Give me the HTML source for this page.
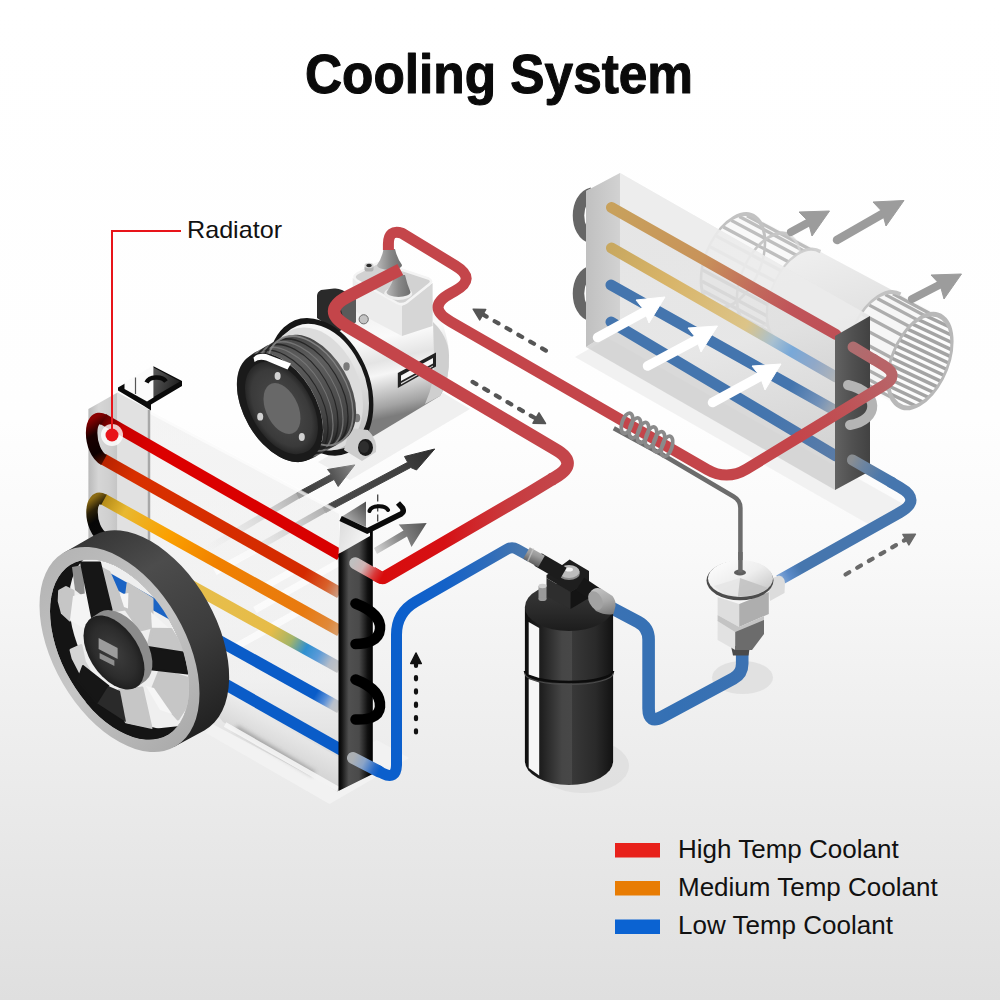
<!DOCTYPE html>
<html lang="en">
<head>
<meta charset="utf-8">
<title>Cooling System</title>
<style>
html,body{margin:0;padding:0;background:#fff;}
body{width:1000px;height:1000px;overflow:hidden;font-family:"Liberation Sans",sans-serif;}
svg{display:block;}
text{font-family:"Liberation Sans",sans-serif;}
</style>
</head>
<body>
<svg width="1000" height="1000" viewBox="0 0 1000 1000">
<defs>
<linearGradient id="bg" x1="0" y1="0" x2="0" y2="1">
<stop offset="0" stop-color="#ffffff"/>
<stop offset="0.42" stop-color="#fefefe"/>
<stop offset="0.55" stop-color="#f9f9f9"/>
<stop offset="0.68" stop-color="#f1f1f1"/>
<stop offset="0.82" stop-color="#e9e9e9"/>
<stop offset="1" stop-color="#dfdfdf"/>
</linearGradient>

<radialGradient id="shad" cx="0.5" cy="0.5" r="0.5">
<stop offset="0" stop-color="#bdbdbd" stop-opacity="0.9"/><stop offset="0.7" stop-color="#d0d0d0" stop-opacity="0.6"/><stop offset="1" stop-color="#e0e0e0" stop-opacity="0"/>
</radialGradient>


<linearGradient id="blBody" x1="0.5" y1="0" x2="0.3" y2="1">
<stop offset="0" stop-color="#f0f0f0"/><stop offset="0.3" stop-color="#e8e8e8"/><stop offset="1" stop-color="#d4d4d4"/>
</linearGradient>
<clipPath id="capR"><circle r="1" transform="matrix(32 -18.5 0 43 920 361.05)" /></clipPath>


<linearGradient id="e1" gradientUnits="userSpaceOnUse" x1="611" y1="206" x2="850" y2="346">
<stop offset="0" stop-color="#c8a15c"/><stop offset="0.38" stop-color="#c8935a"/><stop offset="0.6" stop-color="#c26a5c"/><stop offset="0.75" stop-color="#c0545a"/><stop offset="1" stop-color="#be4e54"/>
</linearGradient>
<linearGradient id="e2" gradientUnits="userSpaceOnUse" x1="611" y1="247" x2="836" y2="378">
<stop offset="0" stop-color="#c8a860"/><stop offset="0.25" stop-color="#d8b468"/><stop offset="0.6" stop-color="#dcc488"/><stop offset="0.72" stop-color="#a8c0d0"/><stop offset="0.8" stop-color="#78a8d8"/><stop offset="0.9" stop-color="#90a8c8"/><stop offset="1" stop-color="#b0b4b8"/>
</linearGradient>
<linearGradient id="e3" gradientUnits="userSpaceOnUse" x1="611" y1="285" x2="836" y2="412">
<stop offset="0" stop-color="#4475ae"/><stop offset="0.8" stop-color="#4475ae"/><stop offset="0.92" stop-color="#7090b8"/><stop offset="1" stop-color="#a8acb0"/>
</linearGradient>
<linearGradient id="e4" gradientUnits="userSpaceOnUse" x1="611" y1="322" x2="836" y2="456">
<stop offset="0" stop-color="#4475ae"/><stop offset="0.7" stop-color="#4475ae"/><stop offset="1" stop-color="#5a7ca8"/>
</linearGradient>
<linearGradient id="evL" x1="0" y1="0" x2="1" y2="0">
<stop offset="0" stop-color="#c0c0c0"/><stop offset="1" stop-color="#d2d2d2"/>
</linearGradient>
<linearGradient id="evBack" gradientUnits="userSpaceOnUse" x1="620" y1="180" x2="700" y2="480">
<stop offset="0" stop-color="#dedede"/><stop offset="0.6" stop-color="#e0e0e0"/><stop offset="1" stop-color="#c8c8c8"/>
</linearGradient>
<linearGradient id="evPost" x1="0" y1="0" x2="1" y2="0">
<stop offset="0" stop-color="#626262"/><stop offset="0.5" stop-color="#505050"/><stop offset="1" stop-color="#424242"/>
</linearGradient>


<linearGradient id="cBody" gradientUnits="userSpaceOnUse" x1="395" y1="300" x2="420" y2="410">
<stop offset="0" stop-color="#f0f0f0"/><stop offset="0.3" stop-color="#fafafa"/><stop offset="0.5" stop-color="#e4e4e4"/><stop offset="0.62" stop-color="#f6f6f6"/><stop offset="0.75" stop-color="#cfcfcf"/><stop offset="0.9" stop-color="#a4a4a4"/><stop offset="1" stop-color="#7c7c7c"/>
</linearGradient>
<linearGradient id="cGroove" x1="0" y1="0" x2="0.4" y2="1">
<stop offset="0" stop-color="#262626"/><stop offset="0.35" stop-color="#5e5e5e"/><stop offset="0.7" stop-color="#444"/><stop offset="1" stop-color="#181818"/>
</linearGradient>
<radialGradient id="cFace" cx="0.5" cy="0.5" r="0.55">
<stop offset="0" stop-color="#4e4e4e"/><stop offset="0.75" stop-color="#3a3a3a"/><stop offset="1" stop-color="#1c1c1c"/>
</radialGradient>
<linearGradient id="cFl" x1="0" y1="0" x2="0.3" y2="1">
<stop offset="0" stop-color="#ffffff"/><stop offset="0.5" stop-color="#e2e2e2"/><stop offset="1" stop-color="#bdbdbd"/>
</linearGradient>
<linearGradient id="cPort" x1="0" y1="0" x2="1" y2="0">
<stop offset="0" stop-color="#b8b8b8"/><stop offset="0.5" stop-color="#8a8a8a"/><stop offset="1" stop-color="#6e6e6e"/>
</linearGradient>


<linearGradient id="pA" gradientUnits="userSpaceOnUse" x1="372" y1="575" x2="553" y2="575">
<stop offset="0" stop-color="#d80c0c"/><stop offset="0.4" stop-color="#d61014"/><stop offset="0.55" stop-color="#d02428"/><stop offset="0.75" stop-color="#c83a3e"/><stop offset="1" stop-color="#c4454a"/>
</linearGradient>
<linearGradient id="pC" gradientUnits="userSpaceOnUse" x1="352" y1="756" x2="380" y2="770">
<stop offset="0" stop-color="#b8bcc0"/><stop offset="0.5" stop-color="#6a98d0"/><stop offset="1" stop-color="#0b5fcc"/>
</linearGradient>
<linearGradient id="pC2" gradientUnits="userSpaceOnUse" x1="396" y1="575" x2="520" y2="575">
<stop offset="0" stop-color="#0b5fcc"/><stop offset="0.4" stop-color="#1462c8"/><stop offset="0.8" stop-color="#336eb8"/><stop offset="1" stop-color="#4676ae"/>
</linearGradient>
<linearGradient id="pB2" gradientUnits="userSpaceOnUse" x1="798" y1="437" x2="890" y2="375">
<stop offset="0" stop-color="#c4454a"/><stop offset="0.5" stop-color="#bf5256"/><stop offset="1" stop-color="#b86468"/>
</linearGradient>
<linearGradient id="pB3" gradientUnits="userSpaceOnUse" x1="874" y1="360" x2="853" y2="347">
<stop offset="0" stop-color="#b5666a"/><stop offset="1" stop-color="#ae6e70"/>
</linearGradient>
<linearGradient id="pE" gradientUnits="userSpaceOnUse" x1="852" y1="459" x2="892" y2="480">
<stop offset="0" stop-color="#8a8e92"/><stop offset="0.3" stop-color="#6c84a0"/><stop offset="0.7" stop-color="#4e79aa"/><stop offset="1" stop-color="#4676ae"/>
</linearGradient>
<linearGradient id="pE0" gradientUnits="userSpaceOnUse" x1="777" y1="580" x2="800" y2="567">
<stop offset="0" stop-color="#8fb0dc"/><stop offset="0.5" stop-color="#5a8ac8"/><stop offset="1" stop-color="#4676ae"/>
</linearGradient>
<linearGradient id="pD" gradientUnits="userSpaceOnUse" x1="612" y1="650" x2="742" y2="650">
<stop offset="0" stop-color="#3a72b4"/><stop offset="0.5" stop-color="#3470b4"/><stop offset="1" stop-color="#3c72b2"/>
</linearGradient>


<linearGradient id="rp1" gradientUnits="userSpaceOnUse" x1="95" y1="420" x2="340" y2="556">
<stop offset="0" stop-color="#3a0000"/><stop offset="0.1" stop-color="#c80000"/><stop offset="0.25" stop-color="#dc0000"/><stop offset="1" stop-color="#d80000"/>
</linearGradient>
<linearGradient id="rp2" gradientUnits="userSpaceOnUse" x1="95" y1="460" x2="340" y2="596">
<stop offset="0" stop-color="#b02000"/><stop offset="0.15" stop-color="#d83000"/><stop offset="0.85" stop-color="#d42a00"/><stop offset="0.94" stop-color="#d8602a"/><stop offset="1" stop-color="#c9a58f"/>
</linearGradient>
<linearGradient id="rp3" gradientUnits="userSpaceOnUse" x1="95" y1="496" x2="340" y2="632">
<stop offset="0" stop-color="#a07a10"/><stop offset="0.12" stop-color="#e8b830"/><stop offset="0.3" stop-color="#fba000"/><stop offset="0.5" stop-color="#f08000"/><stop offset="0.85" stop-color="#e87a10"/><stop offset="0.95" stop-color="#e08838"/><stop offset="1" stop-color="#d8a070"/>
</linearGradient>
<linearGradient id="rp4" gradientUnits="userSpaceOnUse" x1="95" y1="532" x2="340" y2="668">
<stop offset="0" stop-color="#e8c050"/><stop offset="0.72" stop-color="#e6bc48"/><stop offset="0.8" stop-color="#a4b468"/><stop offset="0.86" stop-color="#2f90d0"/><stop offset="0.91" stop-color="#5a9ad8"/><stop offset="0.96" stop-color="#b4bcc8"/><stop offset="1" stop-color="#c4c4c4"/>
</linearGradient>
<linearGradient id="rp5" gradientUnits="userSpaceOnUse" x1="95" y1="572" x2="340" y2="708">
<stop offset="0" stop-color="#0a5cc8"/><stop offset="0.9" stop-color="#0a5cc8"/><stop offset="0.94" stop-color="#5a90d8"/><stop offset="0.97" stop-color="#b8c0cc"/><stop offset="1" stop-color="#c4c4c4"/>
</linearGradient>
<linearGradient id="ub1" gradientUnits="userSpaceOnUse" x1="90" y1="420" x2="120" y2="470">
<stop offset="0" stop-color="#8a0000"/><stop offset="0.25" stop-color="#1a0000"/><stop offset="0.55" stop-color="#0c0000"/><stop offset="0.8" stop-color="#6a1200"/><stop offset="1" stop-color="#c82800"/>
</linearGradient>
<linearGradient id="ub2" gradientUnits="userSpaceOnUse" x1="90" y1="500" x2="120" y2="540">
<stop offset="0" stop-color="#8a6a14"/><stop offset="0.2" stop-color="#2a2008"/><stop offset="0.4" stop-color="#060606"/><stop offset="1" stop-color="#0c0c0c"/>
</linearGradient>
<linearGradient id="postL" x1="0" y1="0" x2="1" y2="0">
<stop offset="0" stop-color="#b4b4b4"/><stop offset="0.35" stop-color="#d2d2d2"/><stop offset="0.7" stop-color="#cccccc"/><stop offset="1" stop-color="#c0c0c0"/>
</linearGradient>
<linearGradient id="postR" x1="0" y1="0" x2="1" y2="0">
<stop offset="0" stop-color="#020202"/><stop offset="0.1" stop-color="#161616"/><stop offset="0.3" stop-color="#505050"/><stop offset="0.6" stop-color="#4a4a4a"/><stop offset="0.85" stop-color="#101010"/><stop offset="1" stop-color="#000"/>
</linearGradient>
<linearGradient id="bodyG" gradientUnits="userSpaceOnUse" x1="0" y1="420" x2="0" y2="790">
<stop offset="0" stop-color="#ececec" stop-opacity="0.55"/><stop offset="0.7" stop-color="#efefef" stop-opacity="0.55"/><stop offset="0.85" stop-color="#e0e0e0" stop-opacity="0.8"/><stop offset="1" stop-color="#cfcfcf" stop-opacity="0.95"/>
</linearGradient>
<linearGradient id="arA" gradientUnits="userSpaceOnUse" x1="324" y1="510" x2="435" y2="449">
<stop offset="0" stop-color="#4a4a4a"/><stop offset="0.7" stop-color="#404040"/><stop offset="1" stop-color="#2c2c2c"/>
</linearGradient>
<linearGradient id="arB" gradientUnits="userSpaceOnUse" x1="298" y1="495" x2="355" y2="465">
<stop offset="0" stop-color="#3c3c3c"/><stop offset="0.55" stop-color="#4c4c4c"/><stop offset="1" stop-color="#8a8a8a"/>
</linearGradient>
<linearGradient id="arC" gradientUnits="userSpaceOnUse" x1="375" y1="552" x2="427" y2="523">
<stop offset="0" stop-color="#d8d8d8"/><stop offset="0.45" stop-color="#8a8a8a"/><stop offset="1" stop-color="#555"/>
</linearGradient>
<linearGradient id="tailA" gradientUnits="userSpaceOnUse" x1="324" y1="510" x2="225" y2="566">
<stop offset="0" stop-color="#9a9a9a" stop-opacity="0.75"/><stop offset="0.3" stop-color="#c4c4c4" stop-opacity="0.7"/><stop offset="1" stop-color="#e0e0e0" stop-opacity="0"/>
</linearGradient>
<linearGradient id="tailB" gradientUnits="userSpaceOnUse" x1="298" y1="495.500" x2="205" y2="550">
<stop offset="0" stop-color="#9a9a9a" stop-opacity="0.75"/><stop offset="0.3" stop-color="#c4c4c4" stop-opacity="0.7"/><stop offset="1" stop-color="#e0e0e0" stop-opacity="0"/>
</linearGradient>
<linearGradient id="postTop" x1="0" y1="0" x2="1" y2="0.6">
<stop offset="0" stop-color="#dadada"/><stop offset="1" stop-color="#f6f6f6"/>
</linearGradient>
<linearGradient id="brTri" x1="1" y1="0" x2="0" y2="1">
<stop offset="0" stop-color="#4a4a4a"/><stop offset="1" stop-color="#c8c8c8"/>
</linearGradient>
<linearGradient id="brL" x1="0" y1="0" x2="1" y2="0.3">
<stop offset="0" stop-color="#5a5a5a"/><stop offset="1" stop-color="#222"/>
</linearGradient>
<linearGradient id="botG" gradientUnits="userSpaceOnUse" x1="290" y1="725" x2="272" y2="758">
<stop offset="0" stop-color="#ececec" stop-opacity="0.7"/><stop offset="1" stop-color="#cfcfcf" stop-opacity="0.95"/>
</linearGradient>
<filter id="blur2" x="-20%" y="-20%" width="140%" height="140%"><feGaussianBlur stdDeviation="2"/></filter>


<linearGradient id="pAe" gradientUnits="userSpaceOnUse" x1="353" y1="562" x2="381.500" y2="578">
<stop offset="0" stop-color="#c9c9c9" stop-opacity="0.92"/><stop offset="0.35" stop-color="#cfb4b4"/><stop offset="0.75" stop-color="#d83a3a"/><stop offset="1" stop-color="#d80c0c"/>
</linearGradient>
<linearGradient id="pCe" gradientUnits="userSpaceOnUse" x1="353" y1="758" x2="379" y2="771">
<stop offset="0" stop-color="#b4b8bc" stop-opacity="0.92"/><stop offset="0.4" stop-color="#8aa4c8"/><stop offset="0.8" stop-color="#2a6cc8"/><stop offset="1" stop-color="#0b5fcc"/>
</linearGradient>


<linearGradient id="fanRim" x1="0.25" y1="0" x2="1" y2="0.75">
<stop offset="0" stop-color="#2e2e2e"/><stop offset="0.3" stop-color="#4c4c4c"/><stop offset="0.6" stop-color="#3c3c3c"/><stop offset="1" stop-color="#1a1a1a"/>
</linearGradient>
<linearGradient id="fanRing" x1="0" y1="0.1" x2="1" y2="0.9">
<stop offset="0" stop-color="#b0b0b0"/><stop offset="0.5" stop-color="#c6c6c6"/><stop offset="1" stop-color="#a4a4a4"/>
</linearGradient>
<radialGradient id="hubG" cx="0.5" cy="0.5" r="0.6">
<stop offset="0" stop-color="#3e3e3e"/><stop offset="0.6" stop-color="#2c2c2c"/><stop offset="1" stop-color="#161616"/>
</radialGradient>
<clipPath id="fanIn"><circle r="1" transform="matrix(69.5 38.2 0 81.5 119.5 649.5)" /></clipPath>


<linearGradient id="drBody" x1="0" y1="0" x2="1" y2="0">
<stop offset="0" stop-color="#0e0e0e"/><stop offset="0.18" stop-color="#1e1e1e"/><stop offset="0.42" stop-color="#464646"/><stop offset="0.53" stop-color="#484848"/><stop offset="0.54" stop-color="#383838"/><stop offset="0.8" stop-color="#2a2a2a"/><stop offset="1" stop-color="#121212"/>
</linearGradient>
<linearGradient id="fitG" x1="0" y1="0" x2="1" y2="1">
<stop offset="0" stop-color="#c4c4c4"/><stop offset="0.6" stop-color="#9a9a9a"/><stop offset="1" stop-color="#6a6a6a"/>
</linearGradient>
<linearGradient id="vDisc" x1="0" y1="0" x2="1" y2="1">
<stop offset="0" stop-color="#ffffff"/><stop offset="0.5" stop-color="#eeeeee"/><stop offset="1" stop-color="#bdbdbd"/>
</linearGradient>

<linearGradient id="fitL" gradientUnits="userSpaceOnUse" x1="534" y1="548" x2="528" y2="563">
<stop offset="0" stop-color="#b0b0b0"/><stop offset="0.4" stop-color="#9a9a9a"/><stop offset="1" stop-color="#5a5a5a"/>
</linearGradient>
<linearGradient id="fitR" gradientUnits="userSpaceOnUse" x1="598" y1="588" x2="606" y2="616">
<stop offset="0" stop-color="#c2c2c2"/><stop offset="0.5" stop-color="#a8a8a8"/><stop offset="1" stop-color="#7a7a7a"/>
</linearGradient>
<linearGradient id="drTop" x1="0" y1="0" x2="0" y2="1">
<stop offset="0" stop-color="#3a3a3a"/><stop offset="0.6" stop-color="#2a2a2a"/><stop offset="1" stop-color="#1c1c1c"/>
</linearGradient>


</defs>
<rect width="1000" height="1000" fill="url(#bg)"/>

<!-- 10_floor.svg -->

<!-- base plate -->
<polygon points="206,733 329.500,804 409,758 377,740 338,760 230,700" fill="#f2f2f2"/>
<!-- shadows -->
<ellipse cx="583" cy="766" rx="46" ry="27" fill="#d6d6d6" opacity="0.5"/>
<ellipse cx="742.500" cy="677.500" rx="30.500" ry="16.500" fill="#dedede" opacity="0.85"/>
<!-- floor plate -->
<polygon points="575,357 608,338 905,505 870,525" fill="#f0f0f0" opacity="0.95"/>

<!-- 20_blower.svg -->

<path d="M-0.64 0.77 A1 1 0 0 1 0.64 -0.77 L2.7 0.94 A1 1 0 0 1 1.42 2.48 Z M-0.64 0.77 A1 1 0 0 0 0.64 -0.77 L2.7 0.94 A1 1 0 0 0 1.42 2.48 Z" transform="matrix(32 -18.5 0 43 733 261)" fill="#f7f7f7" opacity="0.75"/>
<g stroke="#b4b4b4" stroke-width="3.3" opacity="0.85" stroke-linecap="butt"><line x1="707.03" y1="298.85" x2="773.03" y2="334.16"/><line x1="703.51" y1="291.07" x2="769.51" y2="326.38"/><line x1="702.01" y1="281.25" x2="768.01" y2="316.56"/><line x1="702.62" y1="270.04" x2="768.62" y2="305.35"/><line x1="705.29" y1="258.21" x2="771.29" y2="293.52"/><line x1="709.86" y1="246.58" x2="775.86" y2="281.89"/><line x1="716" y1="235.92" x2="782" y2="271.23"/><line x1="723.31" y1="226.98" x2="789.31" y2="262.29"/><line x1="731.27" y1="220.36" x2="797.27" y2="255.67"/><line x1="739.35" y1="216.5" x2="805.35" y2="251.81"/><line x1="747" y1="215.68" x2="813" y2="250.99"/></g>
<circle r="1" transform="matrix(32 -18.5 0 43 733 261)" fill="none" stroke="#c2c2c2" stroke-width="0.085" opacity="1"/>
<circle r="1" transform="matrix(32 -18.5 0 43 769 280.26)" fill="none" stroke="#d8d8d8" stroke-width="0.06" opacity="0.7"/>
<path d="M-0.67 0.75 A1 1 0 0 1 0.67 -0.75" transform="matrix(32 -18.5 0 43 769 280.26)" fill="none" stroke="#c4c4c4" stroke-width="0.08" opacity="0.9"/>
<path d="M-0.64 0.77 A1 1 0 0 1 0.64 -0.77 L3.14 1.3 A1 1 0 0 1 1.86 2.84 Z M-0.64 0.77 A1 1 0 0 0 0.64 -0.77 L3.14 1.3 A1 1 0 0 0 1.86 2.84 Z" transform="matrix(32 -18.5 0 43 799 296.31)" fill="url(#blBody)"/>
<path d="M-0.67 0.75 A1 1 0 0 1 0.67 -0.75" transform="matrix(32 -18.5 0 43 799 296.31)" fill="none" stroke="#cccccc" stroke-width="0.07" opacity="0.9"/>
<path d="M-0.64 0.77 A1 1 0 0 1 0.64 -0.77 L1.92 0.29 A1 1 0 0 1 0.64 1.83 Z M-0.64 0.77 A1 1 0 0 0 0.64 -0.77 L1.92 0.29 A1 1 0 0 0 0.64 1.83 Z" transform="matrix(32 -18.5 0 43 879 339.11)" fill="#f8f8f8" opacity="0.9"/>
<g stroke="#a6a6a6" stroke-width="3.3" opacity="0.9" stroke-linecap="butt"><line x1="853.03" y1="376.96" x2="894.03" y2="398.9"/><line x1="849.51" y1="369.18" x2="890.51" y2="391.12"/><line x1="848.01" y1="359.36" x2="889.01" y2="381.29"/><line x1="848.62" y1="348.15" x2="889.62" y2="370.08"/><line x1="851.29" y1="336.32" x2="892.29" y2="358.26"/><line x1="855.86" y1="324.69" x2="896.86" y2="346.62"/><line x1="862" y1="314.03" x2="903" y2="335.97"/><line x1="869.31" y1="305.09" x2="910.31" y2="327.03"/><line x1="877.27" y1="298.47" x2="918.27" y2="320.4"/><line x1="885.35" y1="294.61" x2="926.35" y2="316.55"/><line x1="893" y1="293.79" x2="934" y2="315.72"/></g>
<path d="M-0.67 0.75 A1 1 0 0 1 0.67 -0.75" transform="matrix(32 -18.5 0 43 879 339.11)" fill="none" stroke="#c2c2c2" stroke-width="0.085" opacity="1"/>
<circle r="1" transform="matrix(32 -18.5 0 43 920 361.05)" fill="#fcfcfc"/>
<g clip-path="url(#capR)" stroke="#a4a4a4" stroke-width="3.5"><line x1="875" y1="277.3" x2="965" y2="319.59"/><line x1="875" y1="284.6" x2="965" y2="326.89"/><line x1="875" y1="291.9" x2="965" y2="334.19"/><line x1="875" y1="299.2" x2="965" y2="341.5"/><line x1="875" y1="306.5" x2="965" y2="348.8"/><line x1="875" y1="313.8" x2="965" y2="356.09"/><line x1="875" y1="321.1" x2="965" y2="363.39"/><line x1="875" y1="328.4" x2="965" y2="370.69"/><line x1="875" y1="335.7" x2="965" y2="378"/><line x1="875" y1="343" x2="965" y2="385.3"/><line x1="875" y1="350.3" x2="965" y2="392.59"/><line x1="875" y1="357.6" x2="965" y2="399.89"/><line x1="875" y1="364.9" x2="965" y2="407.19"/><line x1="875" y1="372.2" x2="965" y2="414.5"/><line x1="875" y1="379.5" x2="965" y2="421.79"/><line x1="875" y1="386.8" x2="965" y2="429.09"/><line x1="875" y1="394.1" x2="965" y2="436.39"/><line x1="875" y1="401.4" x2="965" y2="443.69"/></g>
<circle r="1" transform="matrix(32 -18.5 0 43 920 361.05)" fill="none" stroke="#b8b8b8" stroke-width="0.1" opacity="1"/>
<!-- 30_evap.svg -->

<!-- u-bends left -->
<g fill="none" stroke="#666" stroke-width="11.500" stroke-linecap="butt">
<path d="M592 193 C 574 197, 574 234, 592 238"/>
<path d="M592 271 C 574 275, 574 312, 592 316"/>
</g>
<!-- back face -->
<polygon points="620,173 870,316 870,471 620,326" fill="url(#evBack)" opacity="0.78"/>
<!-- bottom inner -->
<polygon points="586,347 620,326 870,471 835,490" fill="#d0d0d0" opacity="0.8"/>
<!-- top face -->
<polygon points="586,191 620,173 870,316 835,336" fill="#f2f2f2" opacity="0.6"/>
<!-- left face -->
<polygon points="586,191 620,173 620,326 586,347" fill="url(#evL)"/>
<!-- pipes -->
<g fill="none" stroke-width="11" stroke-linecap="round">
<path d="M611.500 207.500 L836 334.500" stroke="url(#e1)"/>
<path d="M611.500 248 L836 377" stroke="url(#e2)"/>
<path d="M611 285 L836 411" stroke="url(#e3)"/>
<path d="M611 322 L836 456" stroke="url(#e4)"/>
</g>
<!-- white arrows -->
<g fill="#fff" stroke="#fff" stroke-linejoin="round" stroke-width="1">
<path d="M597.500 337.500 L646 311" fill="none" stroke-width="9.500" stroke-linecap="round"/>
<polygon points="665,297 636,300 644,310 649,323"/>
<path d="M647.500 366 L698 339" fill="none" stroke-width="9.500" stroke-linecap="round"/>
<polygon points="717.500,326 688,328 696,338 701,352"/>
<path d="M712.500 402.500 L762 375.500" fill="none" stroke-width="9.500" stroke-linecap="round"/>
<polygon points="781,364 752,366 760,376 765,390"/>
</g>
<!-- right post -->
<polygon points="835,336 870,316 870,471 835,490" fill="url(#evPost)"/>
<path d="M848 385 C 880 392, 880 420, 850 425" fill="none" stroke="#b4b4b4" stroke-width="10" stroke-linecap="round"/>

<!-- 35_garrows.svg -->
<g fill="#9c9c9c" stroke="#9c9c9c" stroke-linejoin="round" stroke-width="1">
<path d="M791 232 L814 219.500" fill="none" stroke-width="8" stroke-linecap="round"/>
<polygon points="829.500,211 799,212 808,221 812,236"/>
<path d="M837 240 L884 213" fill="none" stroke-width="8.500" stroke-linecap="round"/>
<polygon points="904,200.500 873,202 882,211.500 886,226"/>
<path d="M912 299 L944 282.500" fill="none" stroke-width="8" stroke-linecap="round"/>
<polygon points="961.500,274 931,275 940,284.500 944,299"/>
</g>

<!-- 40_compressor.svg -->

<polygon points="318,462 440,391 470,409 350,480" fill="#e9e9e9" opacity="0.7"/>
<path d="M322 330 L352 300 L433 300 Q447 330 449 352 Q450 380 440 396 L372 437 L335 445 Z" fill="url(#cBody)"/>
<path d="M433 322 Q448 336 449 355 Q450 380 440 396 L425 404 Q436 380 434 355 Z" fill="#cfcfcf"/>
<polygon points="397.800,373 436,352.500 436,366.500 397.800,388" fill="#222"/>
<polygon points="401,375.500 433,358 433,363.500 401,381" fill="#f6f6f6"/>
<polygon points="401,383 433,365.500 433,366.500 401,384.500" fill="#d8d8d8"/>
<path d="M352.700 278 L402 306 L402 336 L352.700 310 Z" fill="#ececec"/>
<path d="M402 306 L432.600 283 L432.600 326 L402 336 Z" fill="#d6d6d6"/>
<path d="M357 273.500 L375.500 264 Q380 261.800 384.500 264 L428.500 278.500 Q433.500 281 429 284.500 L406.500 302.500 Q402 305.500 397 303 L357 280.500 Q352 277 357 273.500 Z" fill="#d2d2d2" stroke="#f4f4f4" stroke-width="2.500"/>
<path d="M377 265 Q382 258 383.500 249 L395 249 Q397 258 402 265 A12.500 5 0 0 1 377 265 Z" fill="url(#cPort)"/>
<rect x="364.500" y="265.500" width="9" height="6" rx="2" fill="#b0b0b0"/>
<ellipse cx="369" cy="265.500" rx="4.500" ry="2.700" fill="#d4d4d4"/><ellipse cx="369" cy="265.500" rx="2.800" ry="1.700" fill="#2a2a2a"/>
<ellipse cx="398.200" cy="293.500" rx="14" ry="6.500" fill="#eeeeee"/>
<path d="M386.500 292 Q393 283 394.500 275 L405 275 Q407 284 410.500 292 A12 5 0 0 1 386.500 292 Z" fill="url(#cPort)"/>
<path d="M317 296 Q317 292 321 290 L334 288.500 Q338 288 342 290 L356 297 V322 L338 332 L317 318 Z" fill="#2a2a2a"/>
<path d="M340 306 L356 297 V322 L346 328 Z" fill="#5a5a5a"/>
<circle cx="363.700" cy="319.300" r="4.600" fill="#c4c4c4" stroke="#6a6a6a" stroke-width="1"/>
<circle r="1" transform="matrix(50.2 17 0 63.6 321 386.8)" fill="url(#cFl)"/>
<circle r="1" transform="matrix(50.2 17 0 63.6 321 386.8)" fill="none" stroke="#161616" stroke-width="0.088"/>
<circle r="1" transform="matrix(47 16 0 59.5 316 389)" fill="#dcdcdc"/>
<ellipse cx="346.500" cy="366.500" rx="3.200" ry="4.200" fill="#7a7a7a"/>
<ellipse cx="357" cy="418" rx="3.200" ry="4.200" fill="#7a7a7a"/>
<path d="M350 428 L368 430 Q378 440 376 452 L362 461 L344 450 Z" fill="#cdcdcd"/>
<ellipse cx="365.500" cy="447.500" rx="7.500" ry="8.500" fill="#1a1a1a"/>
<ellipse cx="364" cy="447" rx="5" ry="6" fill="#2e2e2e"/>
<path d="M0.69 0.73 A1 1 0 0 1 -0.69 -0.73 L0.08 -1.45 A1 1 0 0 1 1.46 -0 Z M0.69 0.73 A1 1 0 0 0 -0.69 -0.73 L0.08 -1.45 A1 1 0 0 0 1.46 -0 Z" transform="matrix(43 22.8 0 49.5 280 407.5)" fill="url(#cGroove)"/>
<circle r="1" transform="matrix(43 22.8 0 49.5 285 404.7)" fill="none" stroke="#1e1e1e" stroke-width="0.03" opacity="0.85"/>
<circle r="1" transform="matrix(43 22.8 0 49.5 290 401.9)" fill="none" stroke="#7a7a7a" stroke-width="0.03" opacity="0.85"/>
<circle r="1" transform="matrix(43 22.8 0 49.5 295 399.1)" fill="none" stroke="#1e1e1e" stroke-width="0.03" opacity="0.85"/>
<circle r="1" transform="matrix(43 22.8 0 49.5 300 396.3)" fill="none" stroke="#7a7a7a" stroke-width="0.03" opacity="0.85"/>
<circle r="1" transform="matrix(43 22.8 0 49.5 305 393.5)" fill="none" stroke="#1e1e1e" stroke-width="0.03" opacity="0.85"/>
<circle r="1" transform="matrix(43 22.8 0 49.5 310 390.7)" fill="none" stroke="#8a8a8a" stroke-width="0.035" opacity="0.85"/>
<circle r="1" transform="matrix(43 22.8 0 49.5 280 407.5)" fill="#1a1a1a"/>
<circle r="1" transform="matrix(36.5 19.3 0 42 281.5 408)" fill="url(#cFace)"/>
<circle r="1" transform="matrix(18.5 9.8 0 23.5 282 408.5)" fill="#686868"/>
<ellipse cx="277.6" cy="376" rx="3" ry="3.900" fill="#d2d2d2"/>
<ellipse cx="260.2" cy="416.7" rx="3" ry="3.900" fill="#d2d2d2"/>
<ellipse cx="301.8" cy="437" rx="3" ry="3.900" fill="#d2d2d2"/>
<path d="M253.500 357.500 Q258 352.500 266 354 L291 363.500 L287.500 369.500 L266 360.500 Q259 358.500 254.500 362 Z" fill="#fff"/>
<!-- 50_pipes.svg -->

<g fill="none" stroke-width="11" stroke-linejoin="round" stroke-linecap="butt">
<!-- red B: compressor port -> evaporator -->
<path d="M388.400 250 V244 Q388.400 229 402 233.200 L455.400 265.700 Q477.300 279 454.700 291.100 L451.100 293.100 Q425.100 307.100 450.800 321.700 L707.100 469.400 Q727 480.900 746.700 469 L800 436.500" stroke="#c4454a"/>
<path d="M798 437.700 L883.200 385.800 Q900.900 375.700 883.400 365.200 L872 358.400" stroke="url(#pB2)"/>
<path d="M874 359.600 L853 347" stroke="url(#pB3)" stroke-linecap="round"/>
<!-- red A: compressor port -> radiator -->
<g stroke-width="12.600">
<path d="M400.300 269.500 L347.700 296.700 Q320.800 310.900 347.100 326.200 L555 449.100 Q580.200 463.300 555 477.500 L551 479.800" stroke="#c4454a"/>
<path d="M553 478.600 L530 492.600 L384.500 577.400 Q382.400 578.600 380.300 577.400 L372 572.700" stroke="url(#pA)"/>
</g>
<!-- blue C: radiator -> drier -->
<path d="M376 769.500 L383 773.500 Q396 780 396.500 765 V634.800 Q396.500 612.800 415.600 601.800 L507 549.300 Q512 546.300 517 549.200 L531 557" stroke="url(#pC2)"/>
<!-- blue D: drier -> valve -->
<path d="M612 608.200 L638 621.800 Q648.600 627.400 648.600 639.400 V708.600 Q648.600 724.300 662.300 716.800 L733.400 678.500 Q742.200 673.700 742.200 663.700 V651" stroke="url(#pD)" stroke-width="12.600"/>
<!-- blue E: valve -> evaporator -->
<path d="M779 580.300 L899.800 512.500 Q922 500 899.900 487.300 L890 481.600" stroke="url(#pE0)" stroke-width="11.200"/>
<path d="M892 482.700 L852.500 460" stroke="url(#pE)" stroke-linecap="round" stroke-width="11.200"/>
</g>
<!-- capillary tube -->
<path d="M613.800 428.200 L663 455 L733.500 496.500 Q740.400 500.500 740.400 508 V576" fill="none" stroke="#6c6c6c" stroke-width="4.500" stroke-linejoin="round"/>
<!-- coil -->
<g fill="none" stroke="#8a8a8a" stroke-width="3.700">
<ellipse cx="627" cy="423.3" rx="5" ry="10.5" transform="rotate(18 627 423.3)"/>
<ellipse cx="635" cy="427.9" rx="5" ry="10.5" transform="rotate(18 635 427.9)"/>
<ellipse cx="643" cy="432.5" rx="5" ry="10.5" transform="rotate(18 643 432.5)"/>
<ellipse cx="651" cy="437.1" rx="5" ry="10.5" transform="rotate(18 651 437.1)"/>
<ellipse cx="659" cy="441.7" rx="5" ry="10.5" transform="rotate(18 659 441.7)"/>
<ellipse cx="667" cy="446.3" rx="5" ry="10.5" transform="rotate(18 667 446.3)"/>
</g>

<!-- 60_radiator.svg -->

<!-- airflow arrows (behind body) -->
<g>
<path d="M322.700 507.400 L407.700 462.300 L404.500 456.500 L434.700 449 L416.500 470 L410.700 467.500 L325.700 512.600 Z" fill="url(#arA)" stroke="url(#arA)" stroke-width="1" stroke-linejoin="round"/>
<path d="M296.500 493 L331.300 474.200 L327.500 469.500 L354.800 464.900 L338.200 486.500 L334.100 479.400 L299.300 498.200 Z" fill="url(#arB)" stroke="url(#arB)" stroke-width="1" stroke-linejoin="round"/>
</g>
<!-- radiator body -->
<polygon points="150,411 339,511 339,791 150,691" fill="url(#bodyG)"/>
<polygon points="117.5,392.5 150,410 339,510 339,514 150,414" fill="#fff" opacity="0.6"/>
<!-- bottom zone -->
<polygon points="180,668 338,757 338,792 223,722" fill="url(#botG)"/>
<path d="M236 728 L314 774" stroke="#8c8c8c" stroke-width="5.500" opacity="0.75" filter="url(#blur2)" fill="none"/>
<path d="M225 724.500 L338 789" stroke="#f6f6f6" stroke-width="5" opacity="0.9" fill="none"/>
<!-- streaks -->
<g stroke-width="6.500" stroke-linecap="butt" fill="none">
<line x1="324" y1="510" x2="225" y2="566" stroke="url(#tailA)"/>
<line x1="298" y1="495.500" x2="205" y2="550" stroke="url(#tailB)"/>
</g>
<g stroke="#fff" stroke-width="7" opacity="0.7" stroke-linecap="butt">
<line x1="215" y1="572" x2="262" y2="546"/>
<line x1="255" y1="610" x2="338" y2="563"/>
<line x1="230" y1="650" x2="300" y2="611"/>
<line x1="262" y1="588" x2="300" y2="567"/>
</g>
<!-- left post -->
<polygon points="88.400,409 117.500,392.500 117.500,640 88.400,640" fill="url(#postL)" opacity="0.92"/>
<polygon points="117.500,392.500 150,410 150,640 117.500,640" fill="#dedede" opacity="0.9"/>
<line x1="149" y1="410" x2="149" y2="600" stroke="#9a9a9a" stroke-width="2.5" opacity="0.8"/>
<!-- pipes -->
<g fill="none" stroke-width="11.500" stroke-linecap="butt">
<path d="M352 756 L140 636" stroke="#0a5cc8"/>
<path d="M103 576 L340 708" stroke="url(#rp5)"/>
<path d="M103 537 L340 668" stroke="url(#rp4)"/>
<path d="M103 499 L340 631" stroke="url(#rp3)"/>
<path d="M103 459 L340 593" stroke="url(#rp2)"/>
<path d="M103 419 L340 555" stroke="url(#rp1)"/>
<path d="M104 419.800 C 87.500 410.500, 87.500 451, 104 460" stroke="url(#ub1)"/>
<path d="M104 499.800 C 88 491, 88 529, 104 537.800" stroke="url(#ub2)"/>
</g>
<!-- right post -->
<polygon points="340.500,517.500 367,529 367,538 338.500,554" fill="url(#postTop)"/>
<polygon points="338.500,554 370,536 370,531 372.800,530 372.800,774 338.500,791" fill="url(#postR)"/>
<!-- right U-bends -->
<g fill="none" stroke="#000" stroke-width="10.500" stroke-linecap="round">
<path d="M355.500 603.500 C 372 610, 381 618, 380 629 C 379 641, 366 644, 355.500 644"/>
<path d="M355.500 679.500 C 372 686, 381 695, 380 707 C 379 718, 366 720, 355.500 719.500"/>
</g>
<!-- bracket right -->
<polygon points="342,516.500 366,501.500 397,503.500 404,511 367.500,529.500" fill="#fafafa"/>
<polygon points="342,516.500 366,501.500 366,527" fill="url(#brTri)"/>
<line x1="377.700" y1="494.500" x2="377.700" y2="522" stroke="#444" stroke-width="1.300" stroke-dasharray="7 3"/>
<path d="M340.600 518.500 L367.200 531 L401 514 Q404.500 512 402.500 508 L398 503" fill="none" stroke="#0a0a0a" stroke-width="5.500" stroke-linejoin="miter"/>
<path d="M369.500 511 A9.500 5.500 0 0 1 388 510" fill="none" stroke="#0a0a0a" stroke-width="4" stroke-linecap="round"/>
<!-- bracket left -->
<polygon points="153,366 182,381 182,386 151,404.500 151,410.500 144,406 118,390.500 118,387.500 125,383.500 153,368" fill="#0a0a0a"/>
<polygon points="153.500,367.500 180,381.500 153.500,397" fill="url(#brL)"/>
<polygon points="124.500,382.500 153.500,365.500 153.500,397.500 147,401.500 124.500,389" fill="#fbfbfb"/>
<line x1="135.500" y1="377.500" x2="135.500" y2="394" stroke="#555" stroke-width="1.200"/>
<path d="M146.500 382.500 A10.500 7 0 0 1 166 381.500" fill="none" stroke="#0a0a0a" stroke-width="4.500"/>
<!-- arrow right of post -->
<path d="M374 548 L403.500 530.500 L398.700 524.500 L426.700 523 L411.500 547 L407 536.500 L377 554 Z" fill="url(#arC)"/>
<!-- label dot -->
<circle cx="112" cy="435" r="11" fill="#fff" opacity="0.8"/>
<circle cx="112" cy="435" r="6.500" fill="#e8141a"/>

<!-- 65_pipeends.svg -->

<g fill="none" stroke-width="12" stroke-linecap="round">
<path d="M355.200 563.200 L381.500 578.100" stroke="url(#pAe)"/>
<path d="M353 758 L379 771.500" stroke="url(#pCe)"/>
</g>

<!-- 70_fan.svg -->

<path d="M0.69 0.72 A1 1 0 0 1 -0.69 -0.72 L-0.32 -1.08 A1 1 0 0 1 1.06 0.37 Z M0.69 0.72 A1 1 0 0 0 -0.69 -0.72 L-0.32 -1.08 A1 1 0 0 0 1.06 0.37 Z" transform="matrix(80 44 0 92.6 119.5 649.5)" fill="url(#fanRim)"/>
<circle r="1" transform="matrix(80 44 0 92.6 119.5 649.5)" fill="url(#fanRing)"/>
<g clip-path="url(#fanIn)">
<circle r="1" transform="matrix(69.5 38.2 0 81.5 119.5 649.5)" fill="#141414"/>
<circle r="1" transform="matrix(69.5 38.2 0 81.5 138.5 639.5)" fill="#efefef"/>
<path d="M100 574 L230 647" stroke="#1a63c4" stroke-width="11.5" fill="none"/>
<polygon points="72,567 83,565 85,598 75,590" fill="#8c8c8c"/>
<polygon points="59.6,591 66,587.6 73,591 73,610 70,620 62.4,613 59.2,601" fill="#c6c6c6" stroke="#c6c6c6" stroke-width="3" stroke-linejoin="round"/>
<polygon points="73,596 87,593 92.4,616 83,628 70,620" fill="#f4f4f4"/>
<polygon points="71,650 81,645.6 84.4,662 89,670 82.4,676.4 73,658" fill="#d4d4d4" stroke="#d4d4d4" stroke-width="3" stroke-linejoin="round"/>
<polygon points="100,567.6 109,572.4 125,609 112.4,611 106,590" fill="#c6c6c6" stroke="#c6c6c6" stroke-width="3" stroke-linejoin="round"/>
<polygon points="128,584 152,599 152,627 140,630 125,608" fill="#c6c6c6" stroke="#c6c6c6" stroke-width="3" stroke-linejoin="round"/>
<polygon points="120,594.4 128.4,593 128,608.4 124,607" fill="#f6f6f6"/>
<polygon points="151,612 171,630 152,629.6" fill="#f4f4f4"/>
<polygon points="152,629.2 171,629.6 184.4,651 148,646.4" fill="#c6c6c6" stroke="#c6c6c6" stroke-width="3" stroke-linejoin="round"/>
<polygon points="160,670 188.4,678.4 188.4,703 178,719 152,690" fill="#c6c6c6" stroke="#c6c6c6" stroke-width="3" stroke-linejoin="round"/>
<polygon points="146,686 154,688 172,714 160,710" fill="#f6f6f6"/>
<polygon points="119,690.4 142,688 151,728 126.4,722.4" fill="#c6c6c6" stroke="#c6c6c6" stroke-width="3" stroke-linejoin="round"/>
<polygon points="97,703 124,723 152,729 180,726 184,738 120,742 80,702" fill="#141414"/>
<polygon points="81,562.4 100,562.4 111.6,610 92.4,619.6" fill="#161616" stroke="#161616" stroke-width="2" stroke-linejoin="round"/>
<polygon points="141.6,646 183,652.4 187.6,673.6 143.6,668.4" fill="#161616" stroke="#161616" stroke-width="2" stroke-linejoin="round"/>
<polygon points="83,666 108.4,686 97.4,703.6 77.6,680.4" fill="#161616" stroke="#161616" stroke-width="2" stroke-linejoin="round"/>
<polygon points="97.4,703.6 108.4,686 120,691 126,722" fill="#2a2a2a"/>
</g>
<path d="M0.75 0.66 A1 1 0 0 1 -0.75 -0.66 L-0.45 -1 A1 1 0 0 1 1.04 0.33 Z M0.75 0.66 A1 1 0 0 0 -0.75 -0.66 L-0.45 -1 A1 1 0 0 0 1.04 0.33 Z" transform="matrix(30.5 16.8 0 33 114 652.5)" fill="#8c8c8c"/>
<circle r="1" transform="matrix(30.5 16.8 0 33 114 652.5)" fill="url(#hubG)"/>
<polygon points="98.6,638 117.6,648 117.6,659 98.6,649" fill="#9c9c9c"/>
<polygon points="99.6,653 114.4,660.6 114.4,666 99.6,658.4" fill="#8e8e8e"/>
<!-- 80_drier_valve.svg -->

<!-- drier body -->
<path d="M524.900 607 V761 A44.100 24 0 0 0 613.100 761 V607 Z" fill="url(#drBody)"/>
<ellipse cx="569" cy="607" rx="44.100" ry="24" fill="url(#drTop)"/>
<path d="M524.900 671 A44.100 11 0 0 0 613.100 671" fill="none" stroke="#0c0c0c" stroke-width="2.500"/>
<path d="M524.900 673.500 A44.100 11 0 0 0 613.100 673.500" fill="none" stroke="#4c4c4c" stroke-width="1.200"/>
<path d="M528.700 622 V674.500 L539.200 678 V628 Z" fill="#f6f6f6"/>
<path d="M528.700 679 V768 L539.200 775.500 V682.500 Z" fill="#f6f6f6"/>
<!-- head block -->
<polygon points="546.500,578 570.500,592 570.500,609 546.500,596" fill="#2e2e2e"/>
<polygon points="570.500,592 589,581 589,598 570.500,609" fill="#141414"/>
<polygon points="559.500,567 569.600,559.600 589,571 589,581 570.500,592 546.500,578 546.500,575" fill="#1e1e1e"/>
<ellipse cx="569" cy="573" rx="11" ry="7" fill="#8a8a8a"/>
<ellipse cx="569" cy="571.500" rx="10.500" ry="6.500" fill="#bcbcbc"/>
<ellipse cx="569" cy="569.500" rx="4" ry="2" fill="#f4f4f4"/>
<rect x="538.500" y="586" width="8" height="13" fill="#9a9a9a"/>
<ellipse cx="542.500" cy="599" rx="4" ry="2" fill="#9a9a9a"/>
<ellipse cx="542.500" cy="586" rx="4" ry="2.200" fill="#cfcfcf"/>
<!-- left fitting -->
<path d="M538 559.500 L563 574" stroke="#1c1c1c" stroke-width="14.500" fill="none"/>
<path d="M526.500 553 L541.500 561.500" stroke="url(#fitL)" stroke-width="13.500" fill="none"/>
<path d="M533.500 548.500 L527.500 562" stroke="#c8c8c8" stroke-width="1.500" opacity="0.7" fill="none"/>
<!-- right fitting -->
<path d="M580 584 L598 596" stroke="#161616" stroke-width="15" fill="none"/>
<path d="M590.500 592 Q594 586.500 601 588.500 L612.500 596 Q616 600.500 615.500 606 L613.500 614 Q606 616 596 611 Q588 604 590.500 592 Z" fill="url(#fitR)"/>
<ellipse cx="595.500" cy="600.500" rx="6.500" ry="10" fill="#a2a2a2" transform="rotate(-28 595.500 600.500)"/>
<!-- expansion valve -->
<polygon points="731,646 750,646 748.500,655.500 733,655.500" fill="#4a4a4a"/>
<polygon points="717.600,620 735.200,631 735.200,650 717.600,640" fill="#e2e2e2"/>
<polygon points="735.200,631 764,618 764,634 752,650 735.200,650" fill="#6c6c6c"/>
<polygon points="717.600,597 717.600,615 739.200,627 739.200,604" fill="#dedede"/>
<polygon points="739.200,604 739.200,627 768.800,614 768.800,592" fill="#aeaeae"/>
<polygon points="717.600,615 739.200,627 764,616 764,620 735.200,632 717.600,621" fill="#c4c4c4"/>
<path d="M768 580 L779 575.500 Q785 577 785 583 L784.500 593 L770 601 Z" fill="#dcdcdc"/>
<ellipse cx="740" cy="580.500" rx="33.500" ry="19.800" fill="#4c4c4c"/>
<ellipse cx="740.500" cy="578.500" rx="32.500" ry="18.500" fill="url(#vDisc)"/>
<path d="M740 578 L714 586 Q722 594 738 596.500 Z" fill="#e6e6e6" opacity="0.9"/>
<path d="M740 578 L738 596.500 Q758 596 768 588 Z" fill="#c2c2c2" opacity="0.9"/>
<ellipse cx="740" cy="572.500" rx="6" ry="3" fill="#5e5e5e"/>

<!-- 85_cap_end.svg -->
<path d="M740.400 552 V572.500" stroke="#6a6a6a" stroke-width="4.500" fill="none"/>

<!-- 90_dotarrows.svg -->
<!-- dotted arrows -->
<g fill="none" stroke-linecap="round" stroke-width="4.200">
<path d="M545.900 350.600 L482.800 314.400" stroke="#555" stroke-dasharray="4.400 9.270"/>
<path d="M472.600 381.900 L534.500 417.800" stroke="#555" stroke-dasharray="4.400 9.040"/>
<path d="M416 732.500 V664" stroke="#111" stroke-dasharray="2.200 11.100"/>
<path d="M845.500 574.500 L907.800 538.300" stroke="#696969" stroke-dasharray="4.400 9.100"/>
</g>
<g stroke-width="1.500" stroke-linejoin="round">
<polygon points="473.200,309.200 485.700,309.500 479.700,319.900" fill="#555" stroke="#555"/>
<polygon points="545.500,423.500 533,423.200 539,412.800" fill="#555" stroke="#555"/>
<polygon points="416,653 421.300,663.500 410.700,663.500" fill="#111" stroke="#111"/>
<polygon points="915.400,534.200 908.900,544.900 902.900,534.500" fill="#696969" stroke="#696969"/>
</g>



<!-- title -->
<text x="499" y="92.800" font-size="56" font-weight="700" text-anchor="middle" textLength="388" lengthAdjust="spacingAndGlyphs" fill="#0a0a0a" stroke="#0a0a0a" stroke-width="1.100" stroke-linejoin="round">Cooling System</text>

<!-- radiator label -->
<path d="M181 231 H112 V435" fill="none" stroke="#e8141a" stroke-width="2"/>
<text x="187" y="237.8" font-size="24" textLength="95" lengthAdjust="spacingAndGlyphs" fill="#111">Radiator</text>

<!-- legend -->
<rect x="615" y="843" width="45" height="14.5" fill="#e8211b"/>
<rect x="615" y="881" width="45" height="14.5" fill="#e87c03"/>
<rect x="615" y="919.5" width="45" height="14.5" fill="#0b63d2"/>
<text x="678" y="858" font-size="26" fill="#111">High Temp Coolant</text>
<text x="678" y="896" font-size="26" fill="#111">Medium Temp Coolant</text>
<text x="678" y="934" font-size="26" fill="#111">Low Temp Coolant</text>
</svg>
</body>
</html>
